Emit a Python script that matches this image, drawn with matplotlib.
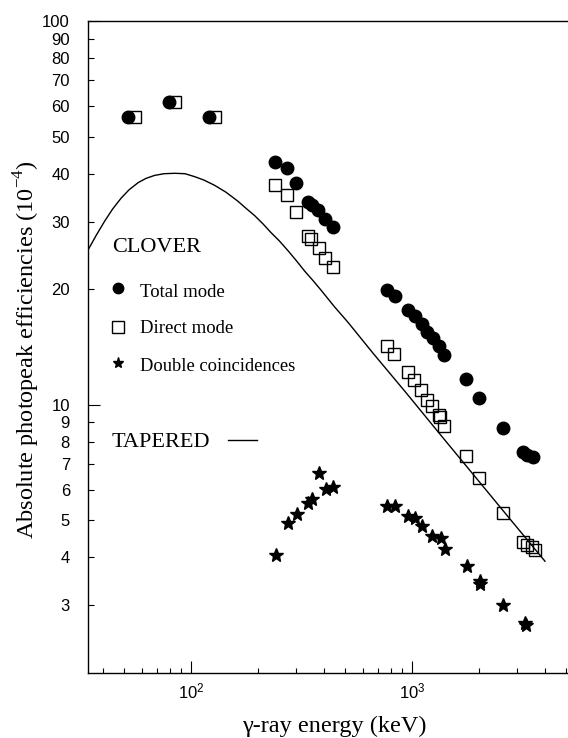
import matplotlib
matplotlib.use("Agg")
import matplotlib.pyplot as plt
from matplotlib.lines import Line2D
from matplotlib.ticker import FixedLocator, FixedFormatter, NullFormatter

# === Data ===
total_energy = [51.9, 79.5, 120.6, 240.7, 272.7, 299.6, 338.4, 352.7, 375.5, 404.0, 439.0,
                768.5, 837.8, 956.1, 1032, 1107, 1173, 1249, 1329, 1396, 1755, 2016,
                2589, 3169, 3324, 3539]
total_eff = [56.2, 61.5, 56.2, 42.8, 41.3, 37.9, 33.8, 33.2, 32.1, 30.5, 29.1,
             19.9, 19.2, 17.7, 17.0, 16.2, 15.5, 14.9, 14.2, 13.5, 11.7, 10.4,
             8.70, 7.51, 7.41, 7.31]

direct_energy = [55.8, 84.6, 128.4, 240.7, 272.7, 299.6, 338.4, 348.0, 379.5, 405.3, 439.0,
                 768.5, 831.6, 956.1, 1021, 1098, 1166, 1228, 1329, 1339, 1396, 1755, 2016,
                 2589, 3169, 3304, 3480, 3603]
direct_eff = [56.2, 61.5, 56.2, 37.4, 35.2, 31.8, 27.5, 27.0, 25.6, 24.1, 22.8,
              14.2, 13.6, 12.2, 11.6, 10.9, 10.3, 9.94, 9.42, 9.29, 8.83, 7.34, 6.44,
              5.22, 4.38, 4.32, 4.26, 4.19]

double_energy = [242.5, 273.9, 300.8, 339.5, 351.8, 379.5, 408.3, 440.4, 768.5, 837.8,
                 962.3, 1032, 1107, 1228, 1349, 1410, 1768, 2031, 2031, 2589, 3246, 3265]
double_eff = [4.07, 4.92, 5.20, 5.55, 5.68, 6.66, 6.03, 6.11, 5.46, 5.46,
              5.12, 5.07, 4.84, 4.56, 4.50, 4.21, 3.79, 3.47, 3.41, 3.01, 2.70, 2.66]

tapered_energy = [34.2, 37.2, 40.7, 44.1, 48.2, 52.4, 57.6, 62.6, 68.5, 75.5, 84.4, 94.0,
                  103.9, 114.5, 128.0, 144.0, 163.2, 177.4, 194.2, 211.8, 230.1, 251.5,
                  274.8, 298.6, 326.9, 355.7, 387.4, 446.0, 513.3, 668.1, 946.2, 1339,
                  1894, 2682, 3998]
tapered_eff = [25.3, 27.6, 30.1, 32.3, 34.5, 36.3, 37.9, 38.9, 39.6, 40.0, 40.1, 40.0,
               39.3, 38.5, 37.3, 35.8, 33.9, 32.5, 31.1, 29.6, 28.1, 26.7,
               25.2, 23.8, 22.3, 21.1, 19.9, 18.0, 16.4, 13.6, 10.7, 8.38,
               6.58, 5.16, 3.91]

x_major = [100, 1000]
x_major_labels = [r"$\mathregular{10^{2}}$", r"$\mathregular{10^{3}}$"]
x_minor = [40, 50, 60, 70, 80, 90, 200, 300, 400, 500, 600, 700, 800, 900,
           2000, 3000, 4000, 5000]
y_major = [10, 100]
y_major_labels = ["10", "100"]
y_minor = [3, 4, 5, 6, 7, 8, 9, 20, 30, 40, 50, 60, 70, 80, 90]
y_minor_labels = [str(v) for v in y_minor]

serif = ["Liberation Serif", "DejaVu Serif"]
sans = ["Liberation Sans", "DejaVu Sans"]

# === Figure ===
W, H = 568, 738
fig = plt.figure(figsize=(W / 100, H / 100), dpi=100)
ax = fig.add_axes([88 / W, 1 - 673 / H, 1 - 88 / W, (673 - 21) / H])

ax.set_xscale("log")
ax.set_yscale("log")
ax.set_xlim(34.2, 5080)
ax.set_ylim(2, 100)

ax.plot(tapered_energy, tapered_eff, color="black", lw=1.0, zorder=2)
ax.plot(direct_energy, direct_eff, ls="none", marker="s", ms=9, mfc="none",
        mec="black", mew=1.0, zorder=3)
ax.plot(total_energy, total_eff, ls="none", marker="o", ms=9, color="black", zorder=4)
ax.plot(double_energy, double_eff, ls="none", marker="*", ms=10, color="black", zorder=4)

# Axis ticks
ax.xaxis.set_major_locator(FixedLocator(x_major))
ax.xaxis.set_major_formatter(FixedFormatter(x_major_labels))
ax.xaxis.set_minor_locator(FixedLocator(x_minor))
ax.xaxis.set_minor_formatter(NullFormatter())
ax.yaxis.set_major_locator(FixedLocator(y_major))
ax.yaxis.set_major_formatter(FixedFormatter(y_major_labels))
ax.yaxis.set_minor_locator(FixedLocator(y_minor))
ax.yaxis.set_minor_formatter(FixedFormatter(y_minor_labels))

ax.tick_params(which="both", direction="in", top=False, right=False, width=0.8)
ax.tick_params(axis="x", which="major", length=8.5, pad=6, labelsize=12)
ax.tick_params(axis="x", which="minor", length=3.5)
ax.tick_params(axis="y", which="major", length=8.5, pad=13, labelsize=12)
ax.tick_params(axis="y", which="minor", length=4.5, pad=13, labelsize=12)
for lab in ax.get_xticklabels() + ax.get_yticklabels(which="both"):
    lab.set_family(sans)

ax.spines["right"].set_visible(False)
for side in ("left", "bottom", "top"):
    ax.spines[side].set_linewidth(1.0)

# Axis titles
fig.text(334 / W, 1 - 726 / H, "γ-ray energy (keV)", family=serif, size=17.5,
         ha="center", va="center")
fig.text(27 / W, 1 - 350 / H, r"Absolute photopeak efficiencies (10$^{\mathregular{-4}}$)",
         family=serif, size=17.5, rotation=90, ha="center", va="center")

# Hand-made legend
fig.text(112 / W, 1 - 251.7 / H, "CLOVER", family=serif, size=16, va="baseline")
fig.add_artist(Line2D([118 / W], [1 - 288 / H], marker="o", ms=7.5, color="black",
                      ls="none", transform=fig.transFigure))
fig.text(140 / W, 1 - 297.3 / H, "Total mode", family=serif, size=13.5, va="baseline")
fig.add_artist(Line2D([118 / W], [1 - 326.5 / H], marker="s", ms=8, mfc="none",
                      mec="black", mew=1.0, ls="none", transform=fig.transFigure))
fig.text(140 / W, 1 - 333.3 / H, "Direct mode", family=serif, size=13.5, va="baseline")
fig.add_artist(Line2D([118 / W], [1 - 363.3 / H], marker="*", ms=8, color="black",
                      ls="none", transform=fig.transFigure))
fig.text(140 / W, 1 - 370.7 / H, "Double coincidences", family=serif, size=13.3,
         va="baseline")
fig.text(112 / W, 1 - 447 / H, "TAPERED", family=serif, size=16, va="baseline")
fig.add_artist(Line2D([228 / W, 257 / W], [1 - 440 / H, 1 - 440 / H], color="black",
                      lw=1.0, transform=fig.transFigure))

fig.savefig("out.png", dpi=100)
